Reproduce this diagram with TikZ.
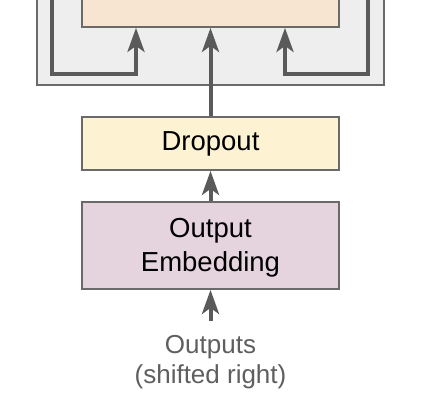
\documentclass[tikz,border=0pt]{standalone}
\usepackage{fontspec}
\setmainfont{Liberation Sans}
\usetikzlibrary{arrows.meta}
\definecolor{linegray}{HTML}{5A5A5A}
\definecolor{boxborder}{HTML}{6A6A6A}
\definecolor{outerfill}{HTML}{EEEEEE}
\definecolor{peach}{HTML}{F8E5D1}
\definecolor{dropfill}{HTML}{FDF3D3}
\definecolor{embfill}{HTML}{E5D3DE}
\definecolor{labelgray}{HTML}{5F5F5F}
\tikzset{
  blk/.style={draw=boxborder, line width=1.8pt, minimum width=257pt, inner sep=0pt, align=center, font=\fontsize{27.5}{34}\selectfont},
  conn/.style={draw=linegray, line width=4pt, line join=miter, -{Stealth[length=24pt,width=17pt,inset=6pt]}},
}
\begin{document}
\begin{tikzpicture}[x=1pt,y=-1pt]
\useasboundingbox (0,0) rectangle (430,406);
\clip (0,0) rectangle (430,406);
\fill[white] (0,0) rectangle (430,406);
% outer gray block (top cut off)
\node[draw=boxborder, line width=1.8pt, fill=outerfill, minimum width=347pt, minimum height=115pt, inner sep=0pt] (outer) at (210.5,27.5) {};
% peach sublayer (top cut off)
\node[blk, fill=peach, minimum height=57pt] (sub) at (210.5,-1.5) {};
\node[blk, fill=dropfill, minimum height=53pt] (drop) at (210.5,143.5) {\raisebox{-1.5pt}{Dropout}};
\node[blk, fill=embfill, minimum height=87pt] (emb) at (210.5,245.5) {\rule{0pt}{23.8pt}Output\\Embedding};
\node[align=center, text=labelgray, inner sep=0pt, font=\fontsize{26}{30}\selectfont] (lab) at (210.5,362.6) {Outputs\\(shifted right)};
% residual loops
\coordinate (ltop) at (52,-10);
\coordinate (lcorner) at (52,74.5);
\coordinate (lin) at (136,74.5);
\coordinate (rtop) at (368,-10);
\coordinate (rcorner) at (368,74.5);
\coordinate (rin) at (285,74.5);
\draw[conn] (ltop) -- (lcorner) -- (lin) -- (lin |- sub.south);
\draw[conn] (rtop) -- (rcorner) -- (rin) -- (rin |- sub.south);
\draw[conn] (drop.north) -- (sub.south);
\draw[conn] (emb.north) -- (drop.south);
\draw[conn] (lab.north) ++(0,-15) -- (emb.south);
\end{tikzpicture}
\end{document}
